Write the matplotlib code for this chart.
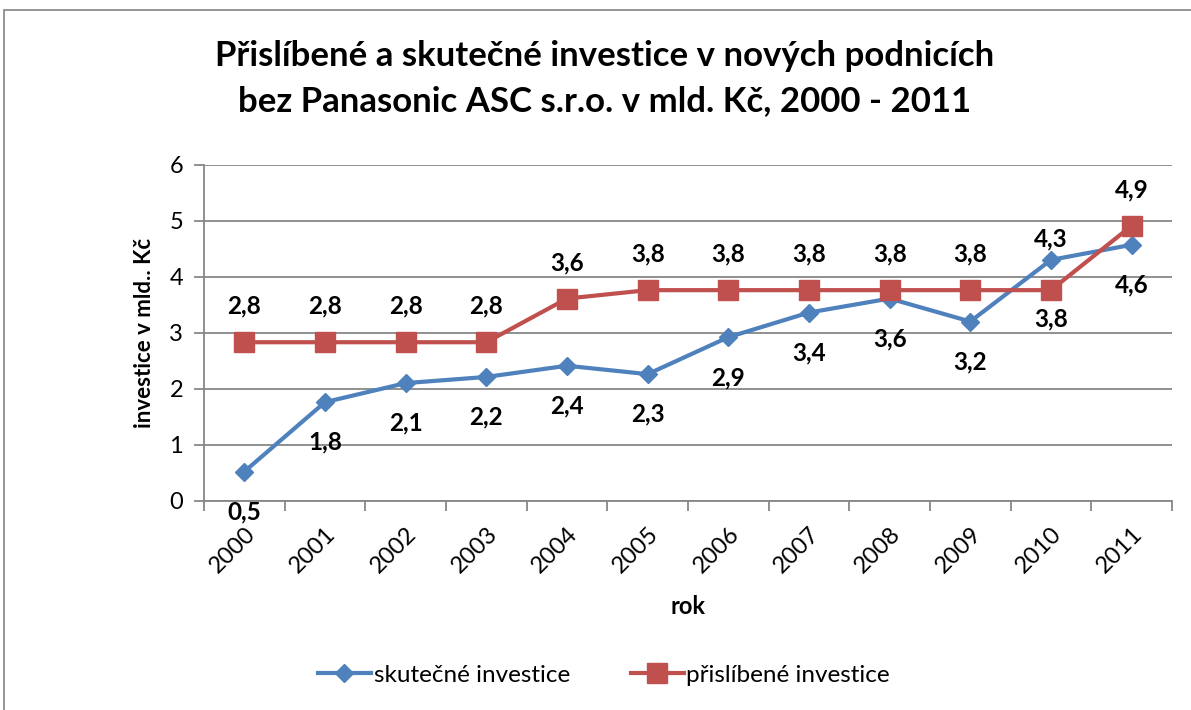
import matplotlib
matplotlib.use("Agg")
import matplotlib.pyplot as plt
from matplotlib.patches import Rectangle

plt.rcParams['font.family'] = ['Lato', 'DejaVu Sans']

years = ['2000', '2001', '2002', '2003', '2004', '2005',
         '2006', '2007', '2008', '2009', '2010', '2011']
skutecne = [0.52, 1.76, 2.10, 2.21, 2.41, 2.26, 2.92, 3.36, 3.61, 3.20, 4.30, 4.57]
prislibene = [2.83, 2.83, 2.83, 2.83, 3.61, 3.76, 3.76, 3.76, 3.76, 3.76, 3.76, 4.91]
# label placement: True = above the point
skut_above = [False] * 10 + [True, False]
pris_above = [True] * 10 + [False, True]

blue = '#4F81BD'
red = '#C0504D'
grid_c = '#878787'

fig = plt.figure(figsize=(11.91, 7.10), dpi=100)
ax = fig.add_axes([0.1713, 0.2948, 0.8127, 0.4732])

x = list(range(len(years)))
ax.plot(x, skutecne, color=blue, lw=3, marker='D', ms=9.5,
        label='skutečné investice', zorder=3)
ax.plot(x, prislibene, color=red, lw=3, marker='s', ms=15,
        label='přislíbené investice', zorder=4)


def fmt(v):
    return ('%.1f' % v).replace('.', ',')


for xi, v, up in zip(x, skutecne, skut_above):
    off = 15 if up else -29
    ax.annotate(fmt(v), (xi, v), xytext=(0, off), textcoords='offset points',
                ha='center', va='center', fontsize=17.5, fontweight='bold')
for xi, v, up in zip(x, prislibene, pris_above):
    off = 26 if up else -21
    ax.annotate(fmt(v), (xi, v), xytext=(0, off), textcoords='offset points',
                ha='center', va='center', fontsize=17.5, fontweight='bold')

ax.set_xlim(-0.5, len(years) - 0.5)
ax.set_ylim(0, 6)
ax.set_yticks(range(0, 7))
ax.yaxis.grid(True, color=grid_c, lw=1.3)
ax.set_axisbelow(True)

ax.set_xticks([i - 0.5 for i in range(len(years) + 1)])
ax.set_xticklabels([])
ax.set_xticks(x, minor=True)
ax.set_xticklabels(years, minor=True, rotation=45, ha='right', va='top',
                   rotation_mode='anchor', fontsize=17)
ax.tick_params(axis='x', which='major', length=7, width=1.3, color=grid_c,
               direction='out')
ax.tick_params(axis='x', which='minor', length=0, pad=16)
ax.tick_params(axis='y', length=7, width=1.3, color=grid_c, labelsize=17, pad=8)

for s in ['top', 'right']:
    ax.spines[s].set_visible(False)
for s in ['left', 'bottom']:
    ax.spines[s].set_color(grid_c)
    ax.spines[s].set_linewidth(1.3)

ax.set_ylabel('investice v mld.. Kč', fontsize=16, fontweight='bold', labelpad=10)
ax.set_xlabel('rok', fontsize=17, fontweight='bold', labelpad=13)

fig.text(0.508, 0.921, 'Přislíbené a skutečné investice v nových podnicích',
         ha='center', va='center', fontsize=25, fontweight='bold')
fig.text(0.508, 0.857, 'bez Panasonic ASC s.r.o. v mld. Kč, 2000 - 2011',
         ha='center', va='center', fontsize=25, fontweight='bold')

ax.legend(loc='center', bbox_to_anchor=(0.507, 0.049),
          bbox_transform=fig.transFigure, ncol=2, frameon=False,
          fontsize=17.5, handlelength=2.2, handletextpad=0.1, columnspacing=2.5)

fig.patches.append(Rectangle((4 / 1191, -0.01), 1190 / 1191, 1 - 10 / 710 + 0.01,
                             transform=fig.transFigure, fill=False,
                             edgecolor='#8c8c8c', lw=1.3))

fig.savefig('out.png', dpi=100)
